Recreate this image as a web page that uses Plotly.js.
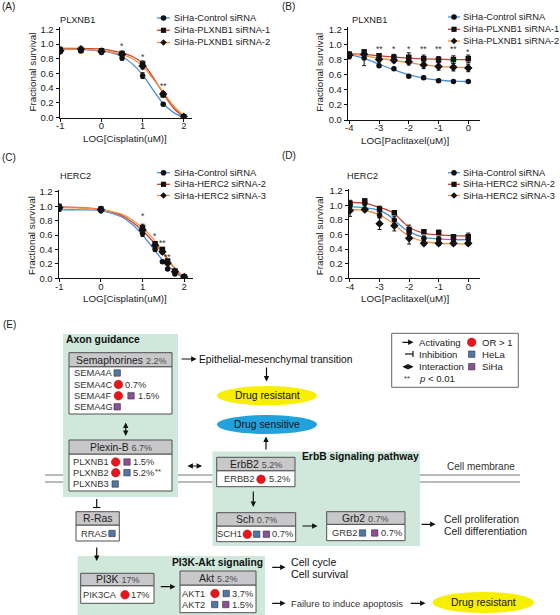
<!DOCTYPE html>
<html>
<head>
<meta charset="utf-8">
<script src="https://cdn.plot.ly/plotly-3.0.1.min.js"></script>
<style>html,body{margin:0;padding:0;background:#fff;}#chart{width:560px;height:615px;}</style>
</head>
<body>
<div id="chart"></div>
<script>
// ================= DATA =================
const seriesColors = ['#4a8fdb', '#c8402f', '#f39040'];
const seriesSymbols = ['circle', 'square', 'diamond'];
const yTitle = 'Fractional survival';
const cisTitle = 'LOG[Cisplatin(uM)]';
const pacTitle = 'LOG[Paclitaxel(uM)]';
const cisTickVals = [-1, 0, 1, 2];
const cisTickText = ['-1', '0', '1', '2'];
const pacTickVals = [-4, -3, -2, -1, 0];
const pacTickText = ['-4', '-3', '-2', '-1', '0'];

// Panel A: PLXNB1 / Cisplatin
const A_gene = 'PLXNB1';
const A_names = ['SiHa-Control siRNA', 'SiHa-PLXNB1 siRNA-1', 'SiHa-PLXNB1 siRNA-2'];
const A_logDose = [-1, -0.5, 0, 0.5, 1, 1.5, 2];
const A_control = [0.90, 0.91, 0.89, 0.81, 0.57, 0.18, 0.00];
const A_controlErr = [0.03, 0.03, 0.03, 0.03, 0.04, 0.02, 0.01];
const A_si1 = [0.92, 0.92, 0.91, 0.87, 0.73, 0.31, 0.01];
const A_si1Err = [0.04, 0.03, 0.03, 0.03, 0.04, 0.03, 0.01];
const A_si2 = [0.91, 0.93, 0.90, 0.86, 0.70, 0.32, 0.01];
const A_si2Err = [0.03, 0.03, 0.03, 0.03, 0.04, 0.03, 0.01];
const A_fitX = [-1, -0.5, 0, 0.25, 0.5, 0.75, 1, 1.25, 1.5, 1.75, 2];
const A_fitControl = [0.93, 0.925, 0.905, 0.88, 0.83, 0.73, 0.58, 0.38, 0.19, 0.07, 0.0];
const A_fitSi1 = [0.94, 0.94, 0.93, 0.91, 0.88, 0.83, 0.74, 0.55, 0.33, 0.13, 0.01];
const A_fitSi2 = [0.93, 0.93, 0.91, 0.89, 0.86, 0.80, 0.70, 0.53, 0.35, 0.16, 0.02];
const A_sigX = [0.5, 1, 1.5];
const A_sigY = [0.97, 0.83, 0.43];
const A_sigLabel = ['*', '*', '**'];

// Panel B: PLXNB1 / Paclitaxel
const B_gene = 'PLXNB1';
const B_names = ['SiHa-Control siRNA', 'SiHa-PLXNB1 siRNA-1', 'SiHa-PLXNB1 siRNA-2'];
const B_logDose = [-4, -3.5, -3, -2.5, -2, -1.5, -1, -0.5, 0];
const B_control = [0.84, 0.82, 0.72, 0.68, 0.58, 0.56, 0.52, 0.51, 0.51];
const B_controlErr = [0.03, 0.10, 0.02, 0.02, 0.01, 0.02, 0.02, 0.01, 0.01];
const B_si1 = [0.87, 0.90, 0.85, 0.83, 0.83, 0.81, 0.80, 0.80, 0.81];
const B_si1Err = [0.03, 0.03, 0.03, 0.04, 0.06, 0.05, 0.04, 0.05, 0.05];
const B_si2 = [0.86, 0.87, 0.80, 0.79, 0.77, 0.73, 0.71, 0.70, 0.69];
const B_si2Err = [0.03, 0.03, 0.03, 0.03, 0.04, 0.05, 0.05, 0.05, 0.05];
const B_fitX = [-4, -3.5, -3, -2.5, -2, -1.5, -1, -0.5, 0];
const B_fitControl = [0.87, 0.815, 0.74, 0.665, 0.60, 0.555, 0.53, 0.515, 0.51];
const B_fitSi1 = [0.88, 0.87, 0.85, 0.835, 0.82, 0.81, 0.805, 0.80, 0.80];
const B_fitSi2 = [0.875, 0.85, 0.82, 0.79, 0.76, 0.73, 0.71, 0.70, 0.695];
const B_sigX = [-3, -2.5, -2, -1.5, -1, -0.5, 0];
const B_sigY = [0.94, 0.94, 0.94, 0.94, 0.94, 0.94, 0.90];
const B_sigLabel = ['**', '*', '*', '**', '**', '**', '*'];

// Panel C: HERC2 / Cisplatin
const C_gene = 'HERC2';
const C_names = ['SiHa-Control siRNA', 'SiHa-HERC2 siRNA-2', 'SiHa-HERC2 siRNA-3'];
const C_logDose = [-1, 0, 1, 1.301, 1.477, 1.602, 1.778, 2];
const C_control = [0.97, 0.94, 0.62, 0.40, 0.23, 0.13, 0.06, 0.02];
const C_controlErr = [0.04, 0.03, 0.04, 0.02, 0.02, 0.02, 0.02, 0.01];
const C_si2 = [0.99, 0.96, 0.70, 0.48, 0.40, 0.24, 0.10, 0.02];
const C_si2Err = [0.04, 0.03, 0.05, 0.03, 0.03, 0.02, 0.02, 0.01];
const C_si3 = [0.98, 0.95, 0.67, 0.46, 0.37, 0.21, 0.09, 0.02];
const C_si3Err = [0.04, 0.03, 0.05, 0.03, 0.03, 0.02, 0.02, 0.01];
const C_fitX = [-1, -0.5, 0, 0.5, 0.75, 1, 1.25, 1.5, 1.75, 2];
const C_fitControl = [0.95, 0.95, 0.94, 0.85, 0.75, 0.60, 0.42, 0.24, 0.10, 0.0];
const C_fitSi2 = [0.99, 0.98, 0.955, 0.87, 0.78, 0.66, 0.51, 0.34, 0.15, 0.0];
const C_fitSi3 = [0.98, 0.975, 0.95, 0.89, 0.81, 0.70, 0.55, 0.36, 0.16, 0.01];
const C_sigX = [1, 1.301, 1.477, 1.602];
const C_sigY = [0.86, 0.58, 0.49, 0.30];
const C_sigLabel = ['*', '*', '**', '**'];

// Panel D: HERC2 / Paclitaxel
const D_gene = 'HERC2';
const D_names = ['SiHa-Control siRNA', 'SiHa-HERC2 siRNA-2', 'SiHa-HERC2 siRNA-3'];
const D_logDose = [-4, -3.5, -3, -2.5, -2, -1.5, -1, -0.5, 0];
const D_control = [1.00, 1.03, 0.87, 0.80, 0.62, 0.55, 0.54, 0.54, 0.54];
const D_controlErr = [0.03, 0.03, 0.04, 0.05, 0.04, 0.03, 0.03, 0.03, 0.03];
const D_si2 = [1.03, 1.06, 0.95, 0.90, 0.67, 0.64, 0.63, 0.57, 0.57];
const D_si2Err = [0.04, 0.03, 0.04, 0.02, 0.06, 0.02, 0.03, 0.03, 0.05];
const D_si3 = [0.93, 0.945, 0.75, 0.72, 0.55, 0.48, 0.48, 0.48, 0.48];
const D_si3Err = [0.08, 0.03, 0.08, 0.07, 0.08, 0.03, 0.03, 0.03, 0.03];
const D_fitX = [-4, -3.5, -3, -2.75, -2.5, -2.25, -2, -1.5, -1, -0.5, 0];
const D_fitControl = [0.98, 0.97, 0.93, 0.88, 0.80, 0.71, 0.64, 0.56, 0.54, 0.53, 0.53];
const D_fitSi2 = [1.04, 1.03, 0.97, 0.94, 0.89, 0.79, 0.70, 0.62, 0.595, 0.585, 0.58];
const D_fitSi3 = [0.945, 0.93, 0.87, 0.81, 0.74, 0.65, 0.58, 0.505, 0.48, 0.475, 0.47];

// ================= HELPERS =================
const FONT = 'Liberation Sans, Arial, Helvetica, sans-serif';
const W = 560, H = 615;
const PX = x => x / W;
const PY = y => 1 - y / H;
const shapes = [];
const annotations = [];
const traces = [];

function txt(x, y, s, size, o) {
  o = o || {};
  annotations.push({
    xref: 'paper', yref: 'paper', x: PX(x), y: PY(y),
    text: o.bold ? '<b>' + s + '</b>' : s,
    showarrow: false, xanchor: o.anchor || 'left', yanchor: 'middle',
    textangle: o.angle || 0,
    borderpad: 0, borderwidth: 0,
    font: {family: FONT, size: size, color: o.color || '#222'}
  });
}
function rect(x0, y0, x1, y1, fill, lc, lw) {
  shapes.push({type: 'rect', xref: 'paper', yref: 'paper', x0: PX(x0), x1: PX(x1), y0: PY(y1), y1: PY(y0),
    fillcolor: fill, line: {color: lc || 'rgba(0,0,0,0)', width: lw === undefined ? 1 : lw}});
}
function ell(cx, cy, rx, ry, fill, lc, lw) {
  shapes.push({type: 'circle', xref: 'paper', yref: 'paper', x0: PX(cx - rx), x1: PX(cx + rx), y0: PY(cy + ry), y1: PY(cy - ry),
    fillcolor: fill, line: {color: lc || 'rgba(0,0,0,0)', width: lw || 0}});
}
function seg(x0, y0, x1, y1, c, w) {
  shapes.push({type: 'line', xref: 'paper', yref: 'paper', x0: PX(x0), x1: PX(x1), y0: PY(y0), y1: PY(y1),
    line: {color: c, width: w}});
}
function diamond(cx, cy, r, fill) {
  shapes.push({type: 'path', xref: 'paper', yref: 'paper',
    path: `M${PX(cx)},${PY(cy - r)} L${PX(cx + r)},${PY(cy)} L${PX(cx)},${PY(cy + r)} L${PX(cx - r)},${PY(cy)} Z`,
    fillcolor: fill, line: {color: fill, width: 0}});
}
function arrow(tx, ty, hx, hy, both) {
  annotations.push({xref: 'paper', yref: 'paper', x: PX(hx), y: PY(hy), ax: tx - hx, ay: ty - hy,
    axref: 'pixel', ayref: 'pixel', text: '', showarrow: true, arrowhead: 2, arrowsize: 0.9,
    arrowwidth: 1.2, arrowcolor: '#111', standoff: 0, startstandoff: 0,
    arrowside: both ? 'end+start' : 'end', startarrowhead: 2, startarrowsize: 0.9});
}

// ================= CHART PANELS =================
function addPanel(xa, ya, doses, fitX, fits, vals, errs) {
  fits.forEach((f, i) => traces.push({
    x: fitX, y: f, xaxis: xa, yaxis: ya, mode: 'lines', hoverinfo: 'skip', showlegend: false,
    line: {color: seriesColors[i], width: 1.3, shape: 'spline', smoothing: 1}
  }));
  vals.forEach((v, i) => traces.push({
    x: doses, y: v, xaxis: xa, yaxis: ya, mode: 'markers', showlegend: false,
    marker: {symbol: seriesSymbols[i], size: i === 2 ? 6.5 : 5.5, color: '#111'},
    error_y: {type: 'data', array: errs[i], color: '#111', thickness: 1, width: 2}
  }));
}
function addSig(xa, ya, xs, ys, labels) {
  xs.forEach((x, i) => annotations.push({xref: xa, yref: ya, x: x, y: ys[i], text: labels[i], showarrow: false,
    xanchor: 'center', yanchor: 'middle', borderpad: 0, borderwidth: 0,
    font: {family: FONT, size: 8.5, color: '#333'}}));
}
function addLegend(names, x0, x1, xt, rows) {
  names.forEach((nm, i) => {
    const y = rows[i], cx = (x0 + x1) / 2;
    seg(x0, y, x1, y, seriesColors[i], 1.3);
    if (seriesSymbols[i] === 'circle') ell(cx, y, 2.8, 2.8, '#111');
    else if (seriesSymbols[i] === 'square') rect(cx - 2.6, y - 2.6, cx + 2.6, y + 2.6, '#111', '#111', 0);
    else diamond(cx, y, 3.3, '#111');
    txt(xt, y, nm, 9.3);
  });
}

addPanel('x', 'y', A_logDose, A_fitX, [A_fitControl, A_fitSi1, A_fitSi2], [A_control, A_si1, A_si2], [A_controlErr, A_si1Err, A_si2Err]);
addPanel('x2', 'y2', B_logDose, B_fitX, [B_fitControl, B_fitSi1, B_fitSi2], [B_control, B_si1, B_si2], [B_controlErr, B_si1Err, B_si2Err]);
addPanel('x3', 'y3', C_logDose, C_fitX, [C_fitControl, C_fitSi2, C_fitSi3], [C_control, C_si2, C_si3], [C_controlErr, C_si2Err, C_si3Err]);
addPanel('x4', 'y4', D_logDose, D_fitX, [D_fitControl, D_fitSi2, D_fitSi3], [D_control, D_si2, D_si3], [D_controlErr, D_si2Err, D_si3Err]);
addSig('x', 'y', A_sigX, A_sigY, A_sigLabel);
addSig('x2', 'y2', B_sigX, B_sigY, B_sigLabel);
addSig('x3', 'y3', C_sigX, C_sigY, C_sigLabel);

addLegend(A_names, 157, 170, 174, [18, 30.3, 42.5]);
addLegend(B_names, 448, 460, 463.5, [17, 29.3, 41]);
addLegend(C_names, 157, 170, 174, [172.7, 184.3, 195.5]);
addLegend(D_names, 448, 460, 463.5, [172.7, 184.3, 195.5]);

txt(2, 6.5, '(A)', 10);
txt(281.5, 6.5, '(B)', 10);
txt(2, 157.5, '(C)', 10);
txt(281.5, 155.5, '(D)', 10);
txt(60, 19.5, A_gene, 9.2);
txt(352, 19.5, B_gene, 9.2);
txt(60, 175.5, C_gene, 9.2);
txt(346.5, 175.5, D_gene, 9.2);

// axis titles
txt(125, 138.3, cisTitle, 9.8, {anchor: 'center'});
txt(405, 140, pacTitle, 9.8, {anchor: 'center'});
txt(124.5, 298.8, cisTitle, 9.8, {anchor: 'center'});
txt(405, 298.8, pacTitle, 9.8, {anchor: 'center'});
txt(32, 72.5, yTitle, 9.8, {anchor: 'center', angle: -90});
txt(319.3, 72.5, yTitle, 9.8, {anchor: 'center', angle: -90});
txt(31, 236, yTitle, 9.8, {anchor: 'center', angle: -90});
txt(319.3, 236, yTitle, 9.8, {anchor: 'center', angle: -90});

const axCommon = {
  showline: true, linecolor: '#111', linewidth: 1, ticks: 'outside', ticklen: 3, tickwidth: 1, tickcolor: '#111',
  showgrid: false, zeroline: false, fixedrange: true,
  tickfont: {family: FONT, size: 9.5, color: '#222'}
};
function xAx(p0, p1, range, anchor, tv, tt) {
  return Object.assign({}, axCommon, {domain: [PX(p0), PX(p1)], range: range, anchor: anchor,
    tickmode: 'array', tickvals: tv, ticktext: tt, ticklabelstandoff: -4});
}
function yAx(top, bottom, anchor) {
  return Object.assign({}, axCommon, {domain: [PY(bottom), PY(top)], range: [0, 1.232], anchor: anchor, dtick: 0.2, tick0: 0,
    tickformat: '.1f'});
}

// ================= PATHWAY DIAGRAM (E) =================
const GREEN = '#cfe8db', HEAD = '#c8c8ca', BORDER = '#505050';
const RED = '#e8151b', BLUE = '#4f77a9', PURPLE = '#8d4f96';
const YELLOW = '#f7ee00', CYAN = '#22a2dc', GENE = '#333';

function redDot(cx, cy) { ell(cx, cy, 4.3, 4.3, RED, '#9a1010', 0.5); }
function sq(cx, cy, c) { rect(cx - 3.2, cy - 3.2, cx + 3.2, cy + 3.2, c, '#333', 0.6); }
function geneBox(x0, x1, yt, yh, yb, name, pct) {
  rect(x0, yh, x1, yb, '#ffffff', BORDER, 1);
  rect(x0, yt, x1, yh, HEAD, BORDER, 1);
  const label = pct ? name + ' <span style="font-size:9px;fill:#4a4a4a">' + pct + '</span>' : name;
  txt((x0 + x1) / 2, (yt + yh) / 2 + 0.3, label, 10.4, {anchor: 'center'});
}

// green pathway panels
rect(63, 334, 178, 497, GREEN, null, 0);
rect(212.5, 451.5, 420, 546, GREEN, null, 0);
rect(77.7, 556, 265, 615, GREEN, null, 0);

// cell membrane lines
[475, 482].forEach(y => {
  seg(45, y, 63, y, '#777', 1);
  seg(178, y, 212.5, y, '#777', 1);
  seg(420, y, 520, y, '#777', 1);
});

txt(66, 339.5, 'Axon guidance', 10.3, {bold: true, color: '#111'});
txt(419, 456, 'ErbB signaling pathway', 10.3, {bold: true, color: '#111', anchor: 'right'});
txt(262.5, 562, 'PI3K-Akt signaling', 10.3, {bold: true, color: '#111', anchor: 'right'});

// Semaphorines
geneBox(69, 172, 352.7, 366.7, 414, 'Semaphorines', '2.2%');
txt(73.5, 373, 'SEMA4A', 9.3, {color: GENE}); sq(117.2, 373, BLUE);
txt(73.5, 384.5, 'SEMA4C', 9.3, {color: GENE}); redDot(118.4, 384.5); txt(124.5, 384.5, '0.7%', 9.3, {color: GENE});
txt(73.5, 395.8, 'SEMA4F', 9.3, {color: GENE}); redDot(118.4, 395.8); sq(131, 395.8, PURPLE); txt(137.5, 395.8, '1.5%', 9.3, {color: GENE});
txt(73.5, 406.8, 'SEMA4G', 9.3, {color: GENE}); sq(117.2, 406.8, PURPLE);

// Plexin-B
geneBox(69, 172, 440, 454, 491, 'Plexin-B', '6.7%');
txt(72.7, 462, 'PLXNB1', 9.3, {color: GENE}); redDot(115.7, 462); sq(127, 462, PURPLE); txt(133.3, 462, '1.5%', 9.3, {color: GENE});
txt(72.7, 472.7, 'PLXNB2', 9.3, {color: GENE}); redDot(115.7, 472.7); sq(127, 472.7, BLUE); txt(133.3, 472.7, '5.2%', 9.3, {color: GENE});
txt(155, 471.2, '**', 7.5, {color: GENE});
txt(72.7, 484, 'PLXNB3', 9.3, {color: GENE}); sq(115.2, 484, BLUE);

// R-Ras
geneBox(76, 119.3, 511.7, 525, 541, 'R-Ras', '');
txt(80.5, 533.5, 'RRAS', 9.3, {color: GENE}); sq(112, 533.5, BLUE);

// ErbB2
geneBox(216.7, 295, 457.3, 470.7, 486.7, 'ErbB2', '5.2%');
txt(224, 479.3, 'ERBB2', 9.3, {color: GENE}); redDot(261, 479.3); txt(268.8, 479.3, '5.2%', 9.3, {color: GENE});

// Sch
geneBox(216.7, 295.7, 512.7, 526, 541.7, 'Sch', '0.7%');
txt(216.8, 534.2, 'SCH1', 9.3, {color: GENE}); redDot(247.3, 534.2); sq(256.7, 534.2, BLUE); sq(266.4, 534.2, PURPLE);
txt(271.8, 534.2, '0.7%', 9.3, {color: GENE});

// Grb2
geneBox(326.7, 405, 511.7, 524.3, 540.7, 'Grb2', '0.7%');
txt(331.7, 533, 'GRB2', 9.3, {color: GENE}); sq(362.5, 533, BLUE); sq(374.7, 533, PURPLE); txt(380.8, 533, '0.7%', 9.3, {color: GENE});

// PI3K
geneBox(80.7, 154, 573.3, 585.7, 603.3, 'PI3K', '17%');
txt(83.3, 594.8, 'PIK3CA', 9.3, {color: GENE}); redDot(125, 594.8); txt(130.5, 594.8, '17%', 9.3, {color: GENE});

// Akt
geneBox(180, 256, 571, 585, 612.7, 'Akt', '5.2%');
txt(182.3, 593.5, 'AKT1', 9.3, {color: GENE}); redDot(215, 593.5); sq(226.2, 593.5, BLUE); txt(232.3, 593.5, '3.7%', 9.3, {color: GENE});
txt(182.3, 604.5, 'AKT2', 9.3, {color: GENE}); sq(214.7, 604.5, BLUE); sq(225.8, 604.5, PURPLE); txt(232.3, 604.5, '1.5%', 9.3, {color: GENE});

// outcome ellipses
ell(267, 395.7, 50, 9.6, YELLOW);
ell(267, 424.5, 50, 9.6, CYAN);
ell(483.3, 602.5, 50.7, 10.6, YELLOW);
txt(267, 395.9, 'Drug resistant', 10.4, {anchor: 'center', color: '#111'});
txt(267, 424.7, 'Drug sensitive', 10.4, {anchor: 'center', color: '#111'});
txt(483.3, 602.7, 'Drug resistant', 10.4, {anchor: 'center', color: '#111'});

// process texts
txt(199, 359, 'Epithelial-mesenchymal transition', 10.3, {color: '#111'});
txt(446.5, 466, 'Cell membrane', 10, {color: '#333'});
txt(444, 519, 'Cell proliferation', 10.4, {color: '#222'});
txt(444, 531.5, 'Cell differentiation', 10.4, {color: '#222'});
txt(290.5, 561.7, 'Cell cycle', 10.6, {color: '#111'});
txt(290.5, 574.3, 'Cell survival', 10.6, {color: '#111'});
txt(290.5, 603.3, 'Failure to induce apoptosis', 9.4, {color: '#333'});
txt(3, 324, '(E)', 10);

// arrows
arrow(180, 359, 196.5, 359);
arrow(266.5, 366, 266.5, 381.5);
arrow(125.7, 421, 125.7, 436, true);
arrow(186, 466, 202, 466, true);
arrow(266, 451, 266, 436.5);
arrow(253.3, 490, 253.3, 507);
arrow(301, 526, 317.5, 526);
arrow(420, 524.3, 435.5, 524.3);
arrow(96.7, 546, 96.7, 561);
arrow(159.3, 586.7, 175.5, 586.7);
arrow(270.7, 567.3, 285.5, 567.3);
arrow(270.7, 603.3, 285.5, 603.3);
arrow(409.3, 603.3, 425.5, 603.3);
// inhibition Plexin-B -| R-Ras
seg(96.7, 499, 96.7, 507.5, '#111', 1.2);
seg(93, 507.5, 100.4, 507.5, '#111', 1.2);

// legend box
rect(391.7, 333.3, 518.3, 387.3, '#ffffff', '#666', 1);
arrow(401, 342.3, 413.5, 342.3);
txt(419, 342.3, 'Activating', 9.6);
seg(405, 354, 413, 354, '#111', 1.2);
seg(413, 351, 413, 357, '#111', 1.2);
txt(419, 354, 'Inhibition', 9.6);
arrow(401, 366.7, 413.5, 366.7, true);
txt(419, 366.7, 'Interaction', 9.6);
txt(407, 378.8, '**', 7.5, {anchor: 'center', color: '#333'});
txt(419, 378.3, '<i>p</i> &lt; 0.01', 9.6);
redDot(471.7, 342.3); txt(481.5, 342.3, 'OR &gt; 1', 9.6);
sq(471.7, 354.2, BLUE); txt(481.5, 354.2, 'HeLa', 9.6);
sq(471.7, 366.7, PURPLE); txt(481.5, 366.7, 'SiHa', 9.6);

// ================= LAYOUT =================
const layout = {
  width: W, height: H, margin: {l: 0, r: 0, t: 0, b: 0},
  paper_bgcolor: '#ffffff', plot_bgcolor: 'rgba(0,0,0,0)', showlegend: false,
  font: {family: FONT, size: 9.5, color: '#222'},
  xaxis: xAx(59.5, 192, [-1.02, 2.2], 'y', cisTickVals, cisTickText),
  yaxis: yAx(27, 117.5, 'x'),
  xaxis2: xAx(347.8, 480.2, [-4.05, 0.4], 'y2', pacTickVals, pacTickText),
  yaxis2: yAx(27, 120, 'x2'),
  xaxis3: xAx(58.5, 192.5, [-1.02, 2.2], 'y3', cisTickVals, cisTickText),
  yaxis3: yAx(189.5, 278.3, 'x3'),
  xaxis4: xAx(348.5, 480.1, [-4.05, 0.4], 'y4', pacTickVals, pacTickText),
  yaxis4: yAx(188.5, 278.3, 'x4'),
  shapes: shapes,
  annotations: annotations
};

Plotly.newPlot('chart', traces, layout, {displayModeBar: false, staticPlot: true});
</script>
</body>
</html>
